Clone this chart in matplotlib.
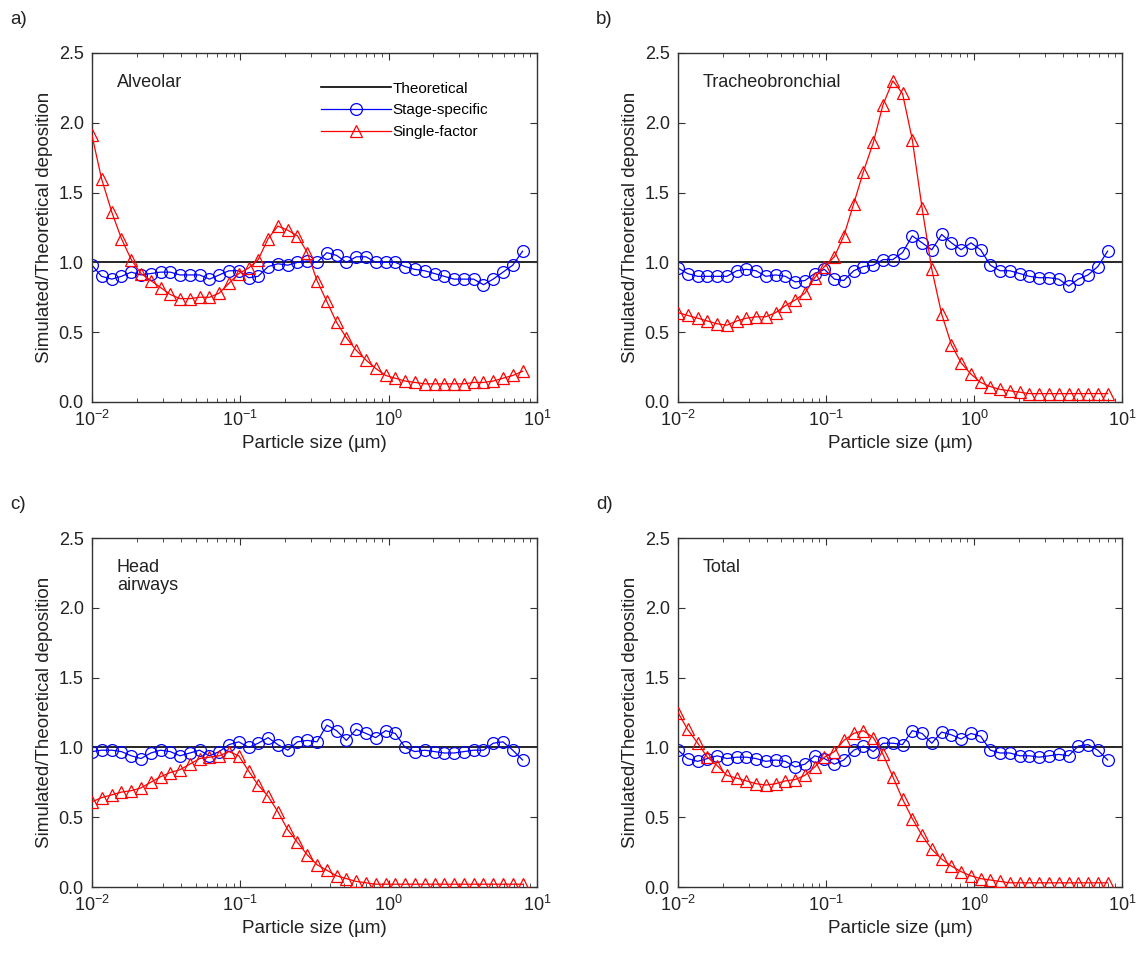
import numpy as np
import matplotlib
matplotlib.use("Agg")
import matplotlib.pyplot as plt
from matplotlib.ticker import LogLocator, NullFormatter, FormatStrFormatter

plt.rcParams['font.family'] = ['Liberation Sans', 'DejaVu Sans']
plt.rcParams['mathtext.fontset'] = 'custom'
plt.rcParams['mathtext.rm'] = 'Liberation Sans'
plt.rcParams['mathtext.it'] = 'Liberation Sans:italic'
plt.rcParams['mathtext.default'] = 'regular'

# particle sizes (um), shared by every panel
sizes = [0.0100, 0.0116, 0.0136, 0.0158, 0.0184, 0.0214, 0.0249, 0.0290, 0.0337,
         0.0392, 0.0457, 0.0532, 0.0619, 0.0721, 0.0839, 0.0976, 0.114, 0.132,
         0.154, 0.179, 0.209, 0.243, 0.283, 0.329, 0.383, 0.446, 0.519, 0.605,
         0.704, 0.819, 0.954, 1.11, 1.29, 1.50, 1.75, 2.04, 2.37, 2.76, 3.22,
         3.74, 4.36, 5.07, 5.90, 6.87, 8.00]

# a) Alveolar
alv_stage = [0.98, 0.90, 0.88, 0.90, 0.93, 0.91, 0.92, 0.93, 0.93, 0.91, 0.91, 0.91,
             0.88, 0.91, 0.94, 0.94, 0.89, 0.90, 0.97, 0.99, 0.98, 1.00, 1.01, 1.00,
             1.07, 1.05, 1.00, 1.04, 1.04, 1.00, 1.00, 1.00, 0.97, 0.95, 0.94, 0.92,
             0.90, 0.88, 0.88, 0.88, 0.84, 0.88, 0.93, 0.98, 1.08]
alv_single = [1.91, 1.60, 1.36, 1.17, 1.02, 0.92, 0.87, 0.82, 0.77, 0.74, 0.74, 0.75,
              0.75, 0.78, 0.85, 0.92, 0.96, 1.02, 1.17, 1.26, 1.23, 1.19, 1.07, 0.87,
              0.72, 0.57, 0.46, 0.37, 0.30, 0.24, 0.19, 0.17, 0.15, 0.14, 0.13, 0.13,
              0.13, 0.13, 0.13, 0.14, 0.14, 0.15, 0.17, 0.19, 0.22]

# b) Tracheobronchial
tb_stage = [0.96, 0.92, 0.90, 0.90, 0.90, 0.90, 0.94, 0.95, 0.94, 0.90, 0.91, 0.90,
            0.86, 0.87, 0.92, 0.95, 0.88, 0.87, 0.94, 0.97, 0.98, 1.02, 1.02, 1.07,
            1.19, 1.14, 1.09, 1.20, 1.14, 1.09, 1.14, 1.09, 0.98, 0.94, 0.94, 0.92,
            0.90, 0.89, 0.89, 0.88, 0.83, 0.88, 0.91, 0.97, 1.08]
tb_single = [0.64, 0.62, 0.60, 0.58, 0.56, 0.55, 0.58, 0.60, 0.61, 0.61, 0.64, 0.69,
             0.73, 0.78, 0.89, 0.97, 1.04, 1.19, 1.42, 1.65, 1.86, 2.13, 2.30, 2.21,
             1.88, 1.39, 0.95, 0.63, 0.41, 0.28, 0.20, 0.14, 0.11, 0.09, 0.08, 0.07,
             0.06, 0.06, 0.06, 0.06, 0.06, 0.06, 0.06, 0.06, 0.06]

# c) Head airways
head_stage = [0.97, 0.98, 0.98, 0.97, 0.94, 0.92, 0.96, 0.98, 0.97, 0.94, 0.96, 0.98,
              0.94, 0.97, 1.02, 1.04, 1.00, 1.03, 1.07, 1.02, 0.98, 1.04, 1.05, 1.04,
              1.16, 1.12, 1.05, 1.13, 1.10, 1.07, 1.12, 1.10, 1.00, 0.97, 0.98, 0.97,
              0.96, 0.96, 0.97, 0.98, 0.98, 1.03, 1.04, 0.98, 0.91]
head_single = [0.61, 0.64, 0.66, 0.68, 0.69, 0.71, 0.75, 0.79, 0.82, 0.84, 0.88, 0.92,
               0.93, 0.94, 0.97, 0.94, 0.83, 0.73, 0.65, 0.54, 0.41, 0.32, 0.23, 0.16,
               0.12, 0.08, 0.06, 0.04, 0.03, 0.02, 0.02, 0.02, 0.02, 0.02, 0.02, 0.02,
               0.02, 0.02, 0.02, 0.02, 0.02, 0.02, 0.02, 0.02, 0.02]

# d) Total
tot_stage = [0.98, 0.92, 0.90, 0.92, 0.94, 0.92, 0.93, 0.93, 0.92, 0.90, 0.91, 0.90,
             0.86, 0.88, 0.94, 0.92, 0.88, 0.91, 0.98, 1.01, 0.97, 1.03, 1.03, 1.02,
             1.12, 1.10, 1.03, 1.11, 1.09, 1.06, 1.10, 1.08, 0.98, 0.96, 0.96, 0.94,
             0.94, 0.93, 0.94, 0.95, 0.94, 1.01, 1.02, 0.98, 0.91]
tot_single = [1.25, 1.13, 1.03, 0.93, 0.87, 0.80, 0.78, 0.76, 0.74, 0.73, 0.74, 0.76,
              0.77, 0.80, 0.86, 0.93, 0.97, 1.05, 1.10, 1.12, 1.07, 0.95, 0.79, 0.63,
              0.49, 0.37, 0.27, 0.20, 0.15, 0.11, 0.08, 0.06, 0.05, 0.04, 0.03, 0.03,
              0.03, 0.03, 0.03, 0.03, 0.03, 0.03, 0.03, 0.03, 0.03]

panels = [
    ("a)", "Alveolar", alv_stage, alv_single),
    ("b)", "Tracheobronchial", tb_stage, tb_single),
    ("c)", "Head\nairways", head_stage, head_single),
    ("d)", "Total", tot_stage, tot_single),
]

# axes boxes in figure fractions [left, bottom, width, height]
boxes = [
    [0.0806, 0.5804, 0.3900, 0.3643],
    [0.5942, 0.5804, 0.3891, 0.3643],
    [0.0806, 0.0741, 0.3900, 0.3643],
    [0.5942, 0.0741, 0.3891, 0.3643],
]

fig = plt.figure(figsize=(11.41, 9.58), dpi=100)

for i, (tag, name, stage, single) in enumerate(panels):
    ax = fig.add_axes(boxes[i])
    ax.axhline(1.0, color='black', lw=1.2, label='Theoretical', zorder=1)
    ax.plot(sizes, stage, color='blue', lw=0.9, marker='o', ms=8.5, mfc='none',
            mec='blue', mew=0.9, label='Stage-specific', zorder=2)
    ax.plot(sizes, single, color='red', lw=0.9, marker='^', ms=8.5, mfc='none',
            mec='red', mew=0.9, label='Single-factor', zorder=3)

    ax.set_xscale('log')
    ax.set_xlim(0.01, 10)
    ax.set_ylim(0, 2.5)
    ax.set_yticks([0, 0.5, 1.0, 1.5, 2.0, 2.5])
    ax.yaxis.set_major_formatter(FormatStrFormatter('%.1f'))
    ax.xaxis.set_major_locator(LogLocator(base=10, numticks=10))
    ax.xaxis.set_minor_locator(LogLocator(base=10, subs=np.arange(2, 10), numticks=10))
    ax.xaxis.set_minor_formatter(NullFormatter())
    ax.tick_params(which='both', direction='in', top=True, right=True,
                   labelsize=13, colors='#333333', labelcolor='#222222')
    ax.tick_params(which='major', length=5, pad=6)
    ax.tick_params(which='minor', length=3)
    for sp in ax.spines.values():
        sp.set_color('#333333')
        sp.set_linewidth(1.0)

    ax.set_xlabel('Particle size (µm)', fontsize=13.5, color='#222222', labelpad=3)
    ax.set_ylabel('Simulated/Theoretical deposition', fontsize=13.5, color='#222222',
                  labelpad=4)
    ax.text(0.056, 0.94, name, transform=ax.transAxes, ha='left', va='top',
            fontsize=13, color='#222222', linespacing=1.1)

    pos = ax.get_position()
    fig.text(pos.x0 - 0.072, pos.y1 + 0.035, tag, fontsize=13.5, color='#222222',
             ha='left', va='center')

    if i == 0:
        ax.legend(loc='upper left', bbox_to_anchor=(0.5, 0.935), frameon=False,
                  fontsize=11, handlelength=4.6, handletextpad=0.1,
                  labelspacing=0.5, borderaxespad=0)

fig.savefig('out.png', dpi=100)
